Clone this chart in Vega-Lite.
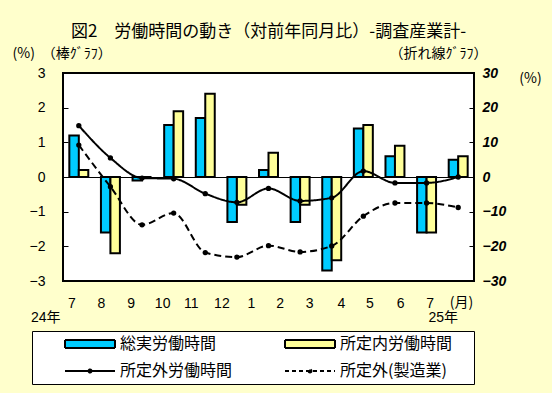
{
  "$schema": "https://vega.github.io/schema/vega-lite/v6.json",
  "width": 411,
  "height": 208,
  "autosize": {"type": "none"},
  "padding": {"left": 63, "top": 73, "right": 78, "bottom": 112},
  "background": "#FFFFCC",
  "config": {
    "view": {"fill": "white", "stroke": "black", "strokeWidth": 2},
    "font": "Noto Sans CJK JP",
    "axis": {
      "grid": false,
      "domain": false,
      "labelColor": "black",
      "titleColor": "black",
      "tickColor": "black",
      "titleFontWeight": "normal",
      "labelFont": "Liberation Sans, Noto Sans CJK JP",
      "labelFontSize": 14,
      "labelOverlap": false,
      "titleFont": "Noto Sans CJK JP",
      "titleFontSize": 14
    }
  },
  "title": {
    "text": "図2　労働時間の動き（対前年同月比）-調査産業計-",
    "font": "Noto Sans CJK JP",
    "fontSize": 17,
    "fontWeight": "normal",
    "color": "black",
    "anchor": "middle",
    "frame": "group",
    "dx": 0,
    "offset": 5
  },
  "data": {
    "values": [
      {"ym": "24-7", "総実労働時間": 1.2, "所定内労働時間": 0.2, "所定外労働時間": 14.8, "所定外(製造業)": 9.2},
      {"ym": "24-8", "総実労働時間": -1.6, "所定内労働時間": -2.2, "所定外労働時間": 5.5, "所定外(製造業)": -2.8},
      {"ym": "24-9", "総実労働時間": -0.1, "所定内労働時間": 0.0, "所定外労働時間": -0.3, "所定外(製造業)": -13.8},
      {"ym": "24-10", "総実労働時間": 1.5, "所定内労働時間": 1.9, "所定外労働時間": -0.5, "所定外(製造業)": -10.4},
      {"ym": "24-11", "総実労働時間": 1.7, "所定内労働時間": 2.4, "所定外労働時間": -4.8, "所定外(製造業)": -21.8},
      {"ym": "24-12", "総実労働時間": -1.3, "所定内労働時間": -0.8, "所定外労働時間": -7.3, "所定外(製造業)": -23.1},
      {"ym": "25-1", "総実労働時間": 0.2, "所定内労働時間": 0.7, "所定外労働時間": -3.3, "所定外(製造業)": -19.8},
      {"ym": "25-2", "総実労働時間": -1.3, "所定内労働時間": -0.8, "所定外労働時間": -6.9, "所定外(製造業)": -21.6},
      {"ym": "25-3", "総実労働時間": -2.7, "所定内労働時間": -2.4, "所定外労働時間": -6.0, "所定外(製造業)": -19.9},
      {"ym": "25-4", "総実労働時間": 1.4, "所定内労働時間": 1.5, "所定外労働時間": 1.7, "所定外(製造業)": -11.3},
      {"ym": "25-5", "総実労働時間": 0.6, "所定内労働時間": 0.9, "所定外労働時間": -1.7, "所定外(製造業)": -7.5},
      {"ym": "25-6", "総実労働時間": -1.6, "所定内労働時間": -1.6, "所定外労働時間": -1.7, "所定外(製造業)": -7.5},
      {"ym": "25-7", "総実労働時間": 0.5, "所定内労働時間": 0.6, "所定外労働時間": 0.0, "所定外(製造業)": -8.8}
    ]
  },
  "layer": [
    {
      "transform": [{"fold": ["総実労働時間", "所定内労働時間"], "as": ["series", "value"]}],
      "mark": {"type": "bar", "stroke": "black", "strokeWidth": 2},
      "encoding": {
        "x": {
          "field": "ym",
          "type": "nominal",
          "sort": null,
          "scale": {"paddingInner": 0.4, "paddingOuter": 0.2},
          "axis": {
            "orient": "bottom",
            "ticks": false,
            "labelAngle": 0,
            "labelPadding": 15,
            "labelBaseline": "top",
            "labelExpr": "split(datum.value, '-')[1]",
            "encoding": {
              "labels": {
                "dx": {"value": {"expr": "{'24-7': -7, '24-8': -9, '24-9': -11, '24-10': -11, '24-11': -14, '24-12': -15, '25-1': -17, '25-2': -20, '25-3': -22, '25-4': -22, '25-5': -25, '25-6': -26, '25-7': -28}[datum.value]"}}
              }
            },
            "title": "(月)",
            "titleX": 398,
            "titleY": 21,
            "titleAlign": "center",
            "titleBaseline": "middle"
          }
        },
        "xOffset": {"field": "series", "type": "nominal", "sort": ["総実労働時間", "所定内労働時間"]},
        "y": {
          "field": "value",
          "type": "quantitative",
          "scale": {"domain": [-3, 3], "nice": false},
          "axis": {
            "orient": "left",
            "values": [-3, -2, -1, 0, 1, 2, 3],
            "labelOverlap": false,
            "tickSize": -5,
            "labelPadding": 23,
            "grid": true,
            "gridColor": "black",
            "gridWidth": 1,
            "gridOpacity": {"condition": {"test": "datum.value === 0", "value": 1}, "value": 0},
            "title": "(%)　（棒ｸﾞﾗﾌ）",
            "titleAngle": 0,
            "titleAlign": "left",
            "titleBaseline": "middle",
            "titleX": -51,
            "titleY": -20
          }
        },
        "color": {
          "field": "series",
          "type": "nominal",
          "scale": {
            "domain": ["総実労働時間", "所定内労働時間", "所定外労働時間", "所定外(製造業)"],
            "range": ["#00CCFF", "#FFFF99", "black", "black"]
          },
          "legend": {
            "orient": "none",
            "legendX": -31,
            "legendY": 258,
            "direction": "horizontal",
            "columns": 2,
            "title": null,
            "fillColor": "white",
            "strokeColor": "black",
            "padding": 5,
            "labelFont": "Noto Sans CJK JP",
            "labelFontSize": 16,
            "labelColor": "black",
            "symbolSize": 100,
            "symbolOffset": 45,
            "labelOffset": 22,
            "columnPadding": 24,
            "rowPadding": 11,
            "symbolStrokeColor": "black",
            "symbolStrokeWidth": 2,
            "encoding": {
              "symbols": {
                "shape": {
                  "condition": [
                    {"test": "datum.value == '所定外労働時間'", "value": "M-5,0H5M0.3,0A0.3,0.3 0 1,1 -0.3,0A0.3,0.3 0 1,1 0.3,0"},
                    {"test": "datum.value == '所定外(製造業)'", "value": "M-5,0H5M0.3,0A0.3,0.3 0 1,1 -0.3,0A0.3,0.3 0 1,1 0.3,0M31,0"},
                    {"test": "datum.value == '所定内労働時間'", "value": "M-5,-0.8H5V0.8H-5ZM31,0"}
                  ],
                  "value": "M-5,-0.8H5V0.8H-5Z"
                },
                "fill": {"condition": [{"test": "datum.value == '総実労働時間'", "value": "#00CCFF"}, {"test": "datum.value == '所定内労働時間'", "value": "#FFFF99"}], "value": "transparent"},
                "stroke": {"value": "black"},
                "strokeWidth": {"value": 2},
                "strokeDash": {"condition": {"test": "datum.value == '所定外(製造業)'", "value": [4, 3]}, "value": [1, 0]},
                "opacity": {"value": 1}
              }
            }
          }
        }
      }
    },
    {
      "transform": [{"fold": ["所定外労働時間", "所定外(製造業)"], "as": ["series", "value"]}],
      "encoding": {
        "y": {
          "field": "value",
          "type": "quantitative",
          "scale": {"domain": [-30, 30], "nice": false},
          "axis": {
            "orient": "right",
            "values": [-30, -20, -10, 0, 10, 20, 30],
            "tickSize": -5,
            "labelPadding": 13,
            "labelFontStyle": "italic",
            "labelFontWeight": "bold",
            "labelAlign": "left",
            "title": "(%)",
            "titleAngle": 0,
            "titleAlign": "center",
            "titleBaseline": "middle",
            "titleX": 56,
            "titleY": 5
          }
        }
      },
      "layer": [
        {
          "mark": {"type": "line", "strokeWidth": 2, "interpolate": "monotone", "color": "black"},
          "encoding": {
            "x": {
              "field": "ym",
              "type": "nominal",
              "sort": null,
              "axis": {
                "orient": "top",
                "ticks": false,
                "labels": false,
                "title": "（折れ線ｸﾞﾗﾌ）",
                "titleX": 375,
                "titleY": -20,
                "titleAlign": "center",
                "titleBaseline": "middle"
              }
            },
            "detail": {"field": "series", "type": "nominal"},
            "strokeDash": {
              "field": "series",
              "type": "nominal",
              "scale": {"domain": ["所定外労働時間", "所定外(製造業)"], "range": [[1, 0], [7, 4]]},
              "legend": null
            }
          }
        },
        {
          "mark": {"type": "point", "filled": true, "size": 28, "color": "black", "opacity": 1},
          "encoding": {
            "x": {
              "field": "ym",
              "type": "nominal",
              "sort": null,
              "axis": {
                "orient": "bottom",
                "ticks": false,
                "labelAngle": 0,
                "labelPadding": 29,
                "labelBaseline": "top",
                "labelExpr": "datum.value == '24-7' ? '24年' : datum.value == '25-7' ? '25年' : ''",
                "encoding": {
                  "labels": {
                    "dx": {"value": {"expr": "datum.value == '24-7' ? -33 : -15"}}
                  }
                },
                "title": null
              }
            },
            "detail": {"field": "series", "type": "nominal"}
          }
        }
      ],
      "resolve": {"axis": {"x": "independent"}}
    }
  ],
  "resolve": {"scale": {"y": "independent"}, "axis": {"x": "independent"}}
}
